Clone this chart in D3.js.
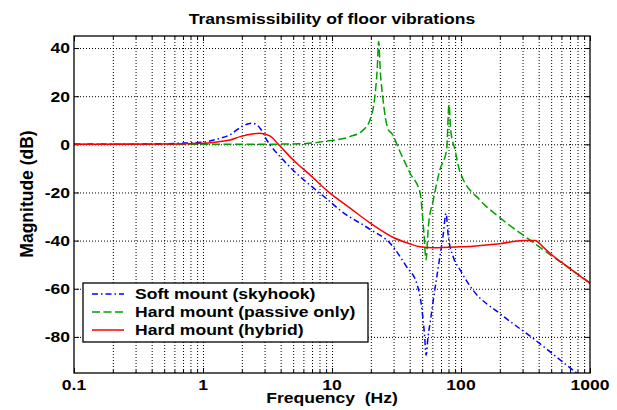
<!DOCTYPE html>
<html>
<head>
<meta charset="utf-8">
<script src="https://cdn.jsdelivr.net/npm/d3@7"></script>
<style>
  body { margin: 0; background: #fff; }
  svg { display: block; font-family: "Liberation Sans", Arial, sans-serif; font-weight: bold; }
  .grid line { stroke: #000; stroke-dasharray: 1,2; stroke-width: 1; }
  .grid path { display: none; }
  .ticks path { display: none; }
  .ticks line { stroke: #000; }
  .axis-label-text { font-size: 15px; fill: #000; }
</style>
</head>
<body>
<svg id="chart"></svg>
<script>
// ---- data ----
const freqSoft = [0.1, 0.3, 0.7, 1.0, 1.28, 1.62, 2.0, 2.39, 2.77, 3.12, 4.19, 5.65, 6.75, 9.65, 11.5, 20, 28.2, 38, 45.4, 49.5, 52.3, 53.6, 55.5, 57.5, 61, 66.7, 73, 76.5, 79.8, 87, 98, 124, 200, 364, 800, 1000];
const dbSoft = [0, 0.05, 0.5, 0.9, 2.1, 4.0, 7.4, 8.8, 6.7, 1.8, -6.5, -13.4, -16.9, -23.8, -27.3, -35.5, -41.1, -51, -57.8, -67.5, -80, -87.6, -80, -74.4, -64.7, -50.9, -37, -28.7, -38.4, -46.7, -52, -60.6, -70.3, -80.7, -95.2, -99];

const freqPassive = [0.1, 1, 3, 5.65, 9.65, 13.8, 17.5, 19.95, 21.5, 22.4, 23, 23.7, 24.7, 27.3, 29, 33.6, 40.3, 48.1, 51.6, 53.6, 55.8, 61, 68.6, 77.4, 80.7, 83.2, 89.8, 98, 140, 195, 343, 1000];
const dbPassive = [0, 0, 0.05, 0.2, 1.55, 3.2, 6.0, 10.9, 20, 31, 42.7, 30, 20, 6.0, 4.6, -3, -12, -20, -37, -48, -34.2, -23.1, -10.6, -2.3, 16.4, 6, -2.3, -11.3, -23.1, -30, -39.8, -57.5];

const freqHybrid = [0.1, 0.5, 1.0, 1.28, 1.62, 1.94, 2.4, 2.77, 3.3, 3.84, 5.0, 6.75, 9.65, 13.8, 19.9, 29.9, 40, 48.1, 61, 98, 124, 200, 304, 375, 430, 490, 700, 1000];
const dbHybrid = [0, 0.1, 0.4, 1.0, 1.8, 3.2, 4.3, 4.6, 3.5, 0, -6.5, -12.7, -20.3, -26.5, -32.8, -38.7, -41.3, -42.6, -43, -42.6, -42.3, -41.3, -40, -40, -42.5, -45.3, -51.6, -57.8];

const seriesNames = ["Soft mount (skyhook)", "Hard mount (passive only)", "Hard mount (hybrid)"];
const xTickValues = [0.1, 1, 10, 100, 1000];
const xTickLabels = ["0.1", "1", "10", "100", "1000"];
const yTickValues = [-80, -60, -40, -20, 0, 20, 40];
const xDomain = [0.1, 1000];
const yDomain = [-95, 45];

const width = 617, height = 410;
const padding = { left: 74, right: 27, top: 36, bottom: 37 };
const innerWidth = width - padding.left - padding.right;
const innerHeight = height - padding.top - padding.bottom;
const stretch = 1.17; // the reference text is drawn wide

const styles = [
  { color: "#0000ff", dash: "6,3,1.5,3" },
  { color: "#00a000", dash: "8,3.5" },
  { color: "#ff0000", dash: null }
];

// move x/y into a transform and widen the glyphs horizontally
function widen(sel){
  sel.each(function(){
    const t = d3.select(this);
    const x = +t.attr("x") || 0, y = +t.attr("y") || 0;
    t.attr("x", null).attr("y", null)
      .attr("transform", `translate(${x},${y}) scale(${stretch},1)`);
  });
}
// axes used only for lines: drop their empty labels
function linesOnly(g){ g.selectAll("text").remove(); }

const svg = d3.select("#chart").attr("width", width).attr("height", height);
svg.append("rect").attr("width", width).attr("height", height).attr("fill", "#fff");
const axes = svg.append("g").attr("transform", `translate(${padding.left},${padding.top})`);

const xScale = d3.scaleLog().domain(xDomain).range([0, innerWidth]);
const yScale = d3.scaleLinear().domain(yDomain).range([innerHeight, 0]);

// every 1..9 x decade for the minor grid
const minorX = [];
for (let e = -1; e < 3; e++) for (let m = 1; m < 10; m++) minorX.push(m*Math.pow(10, e));
minorX.push(1000);

// grid
axes.append("g").attr("class", "grid")
  .attr("transform", `translate(0,${innerHeight})`)
  .call(d3.axisBottom(xScale).tickValues(minorX.filter(v => v > 0.1 && v < 1000)).tickSize(-innerHeight))
  .call(linesOnly);
axes.append("g").attr("class", "grid")
  .call(d3.axisLeft(yScale).tickValues(yTickValues).tickSize(-innerWidth))
  .call(linesOnly);

// inward ticks on all four sides
axes.append("g").attr("class", "ticks").attr("transform", `translate(0,${innerHeight})`)
  .call(d3.axisBottom(xScale).tickValues(xTickValues).tickSize(-5)).call(linesOnly);
axes.append("g").attr("class", "ticks").attr("transform", `translate(0,${innerHeight})`)
  .call(d3.axisBottom(xScale).tickValues(minorX).tickSize(-3)).call(linesOnly);
axes.append("g").attr("class", "ticks")
  .call(d3.axisTop(xScale).tickValues(xTickValues).tickSize(-5)).call(linesOnly);
axes.append("g").attr("class", "ticks")
  .call(d3.axisTop(xScale).tickValues(minorX).tickSize(-3)).call(linesOnly);
axes.append("g").attr("class", "ticks")
  .call(d3.axisLeft(yScale).tickValues(yTickValues).tickSize(-5)).call(linesOnly);
axes.append("g").attr("class", "ticks").attr("transform", `translate(${innerWidth},0)`)
  .call(d3.axisRight(yScale).tickValues(yTickValues).tickSize(-5)).call(linesOnly);

// tick labels
const xLabels = axes.append("g").attr("class", "x-labels");
xLabels.selectAll("text").data(xTickValues).join("text")
  .attr("class", "axis-label-text")
  .attr("x", d => xScale(d))
  .attr("y", innerHeight + 17)
  .attr("text-anchor", "middle")
  .text((d, i) => xTickLabels[i]);
const yLabels = axes.append("g").attr("class", "y-labels");
yLabels.selectAll("text").data(yTickValues).join("text")
  .attr("class", "axis-label-text")
  .attr("x", -4)
  .attr("y", d => yScale(d) + 5.4)
  .attr("text-anchor", "end")
  .text(d => d);

// curves
axes.append("clipPath").attr("id", "clip")
  .append("rect").attr("width", innerWidth).attr("height", innerHeight);
const line = d3.line()
  .x(d => xScale(d[0]))
  .y(d => yScale(d[1]))
  .curve(d3.curveMonotoneX);
const series = [
  d3.zip(freqSoft, dbSoft),
  d3.zip(freqPassive, dbPassive),
  d3.zip(freqHybrid, dbHybrid)
];
const curves = axes.append("g").attr("clip-path", "url(#clip)");
[1, 0, 2].forEach(i => {
  curves.append("path")
    .datum(series[i])
    .attr("fill", "none")
    .attr("stroke", styles[i].color)
    .attr("stroke-width", 1.5)
    .attr("stroke-dasharray", styles[i].dash)
    .attr("d", line);
});

// box
axes.append("rect")
  .attr("width", innerWidth).attr("height", innerHeight)
  .attr("fill", "none").attr("stroke", "#000").attr("stroke-width", 1.3);

// legend
const legend = svg.append("g").attr("transform", "translate(83,283)");
legend.append("rect").attr("width", 285).attr("height", 59)
  .attr("fill", "#fff").attr("stroke", "#000").attr("stroke-width", 1.3);
seriesNames.forEach((name, i) => {
  const row = legend.append("g").attr("transform", `translate(0,${11 + i*18})`);
  row.append("line").attr("x1", 9).attr("x2", 41)
    .attr("stroke", styles[i].color).attr("stroke-width", 1.5)
    .attr("stroke-dasharray", styles[i].dash);
  row.append("text").attr("class", "axis-label-text")
    .attr("x", 52).attr("y", 5.4).text(name);
});

// titles
svg.append("text").attr("class", "axis-label-text")
  .attr("x", padding.left + innerWidth/2).attr("y", 24)
  .attr("text-anchor", "middle")
  .text("Transmissibility of floor vibrations");
svg.append("text").attr("class", "axis-label-text")
  .attr("x", padding.left + innerWidth/2).attr("y", 403)
  .attr("text-anchor", "middle")
  .style("white-space", "pre")
  .text("Frequency  (Hz)");
svg.selectAll("text").call(widen);

svg.append("text").attr("class", "axis-label-text")
  .attr("transform", "translate(33,194) rotate(-90)")
  .attr("text-anchor", "middle")
  .style("font-size", "17.5px")
  .text("Magnitude (dB)");
</script>
</body>
</html>
